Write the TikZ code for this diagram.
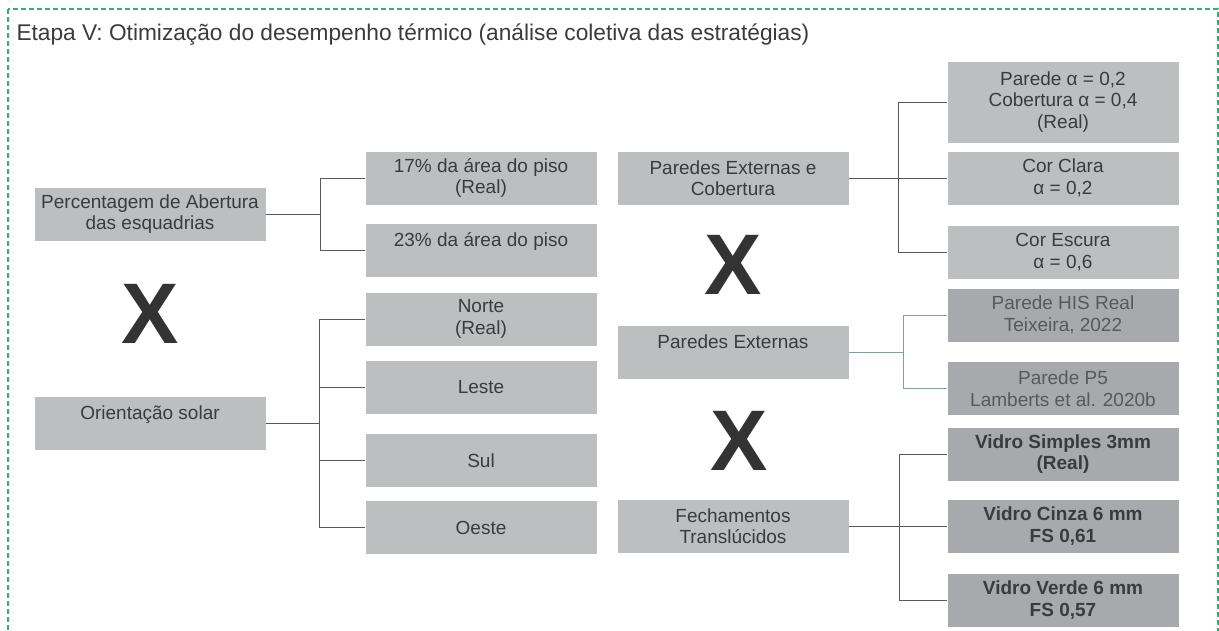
\documentclass[tikz,border=0pt]{standalone}
\usepackage{fontspec}
\setmainfont{Liberation Sans}
\usetikzlibrary{positioning}

\definecolor{boxlight}{HTML}{BCBEC0}
\definecolor{boxdark}{HTML}{A7A9AC}
\definecolor{txtgray}{HTML}{3A3B3C}
\definecolor{txtsoft}{HTML}{58595B}
\definecolor{linegray}{HTML}{58595B}
\definecolor{lineteal}{HTML}{7FA0A0}
\definecolor{xgray}{HTML}{333333}
\definecolor{framegreen}{HTML}{2DB36B}

\tikzset{
	opt/.style={rectangle, fill=boxlight, minimum width=231pt, minimum height=53pt,
		inner sep=0pt, align=center, text=txtgray, font=\fontsize{19}{21.5}\selectfont},
	optdark/.style={opt, fill=boxdark},
	link/.style={draw=linegray, line width=1pt},
	bigx/.style={inner sep=0pt, text=xgray, font=\fontsize{86}{86}\selectfont\bfseries},
}

\begin{document}
\begin{tikzpicture}[x=1pt, y=-1pt, on grid]
	\useasboundingbox (0,0) rectangle (1219,630);
	\draw[framegreen, line width=1.1pt, dash pattern=on 5pt off 3pt] (8,9) rectangle (1218,660);
	\node[anchor=base west, text=txtgray, font=\fontsize{22.7}{22.7}\selectfont] (title) at (13,40)
		{Etapa V: Otimização do desempenho térmico (análise coletiva das estratégias)};
	
	% aberturas e orientacao
	\node[opt] (pa) at (150,214) {Percentagem de Abertura\\das esquadrias};
	\node[opt, above right=36pt and 331pt of pa] (p17) {17\% da área do piso\\(Real)};
	\node[opt, below=72.5pt of p17] (p23) {23\% da área do piso\\\mbox{}};
	\node[bigx, below=100pt of pa] (x1) {X};
	\node[opt, below=209pt of pa] (os) {Orientação solar\\\mbox{}};
	\node[opt, above right=104pt and 331pt of os] (nor) {Norte\\(Real)};
	\node[opt, below=68.5pt of nor] (les) {Leste};
	\node[opt, below=73pt of les] (sul) {Sul};
	\node[opt, below=67pt of sul] (oes) {Oeste};
	
	% paredes e cobertura
	\node[opt, right=252pt of p17] (pec) {Paredes Externas e\\Cobertura};
	\node[opt, right=330pt of pec] (cc) {Cor Clara\\α = 0,2};
	\node[opt, above=76pt of cc, minimum height=81pt] (real) {Parede α = 0,2\\Cobertura α = 0,4\\(Real)};
	\node[opt, below=74pt of cc] (ce) {Cor Escura\\α = 0,6};
	\node[bigx, below=87pt of pec] (x2) {X};
	
	% paredes externas
	\node[opt, below=174pt of pec] (pe) {Paredes Externas\\\mbox{}};
	\node[optdark, above right=37pt and 330pt of pe, text=txtsoft] (his) {Parede HIS Real\\Teixeira, 2022};
	\node[optdark, below=73.5pt of his, text=txtsoft] (p5) {Parede P5\\Lamberts et al. 2020b};
	\node[bigx, below right=88.5pt and 6pt of pe] (x3) {X};
	
	% vidros
	\node[opt, below=174pt of pe] (fec) {Fechamentos\\Translúcidos};
	\node[optdark, right=330pt of fec, font=\fontsize{19}{21.5}\selectfont\bfseries] (vc) {Vidro Cinza 6 mm\\FS 0,61};
	\node[optdark, above=72pt of vc, font=\fontsize{19}{21.5}\selectfont\bfseries] (vs) {Vidro Simples 3mm\\(Real)};
	\node[optdark, below=74pt of vc, font=\fontsize{19}{21.5}\selectfont\bfseries] (vv) {Vidro Verde 6 mm\\FS 0,57};
	
	\coordinate[right=54.5pt of pa.east] (j1);
	\coordinate[right=54pt of os.east] (j2);
	\coordinate[right=49.5pt of pec.east] (j3);
	\coordinate[right=54.5pt of pe.east] (j4);
	\coordinate[right=50.5pt of fec.east] (j5);
	
	\draw[link] (pa.east) -- (j1) |- (p17.west) (j1) |- (p23.west);
	\draw[link] (os.east) -- (j2) |- (nor.west) (j2) |- (les.west)
		(j2) |- (sul.west) (j2) |- (oes.west);
	\draw[link] (pec.east) -- (j3) |- (real.west) (j3) |- (cc.west) (j3) |- (ce.west);
	\draw[link, draw=lineteal] (pe.east) -- (j4) |- (his.west) (j4) |- (p5.west);
	\draw[link] (fec.east) -- (j5) |- (vs.west) (j5) |- (vc.west) (j5) |- (vv.west);
\end{tikzpicture}
\end{document}
